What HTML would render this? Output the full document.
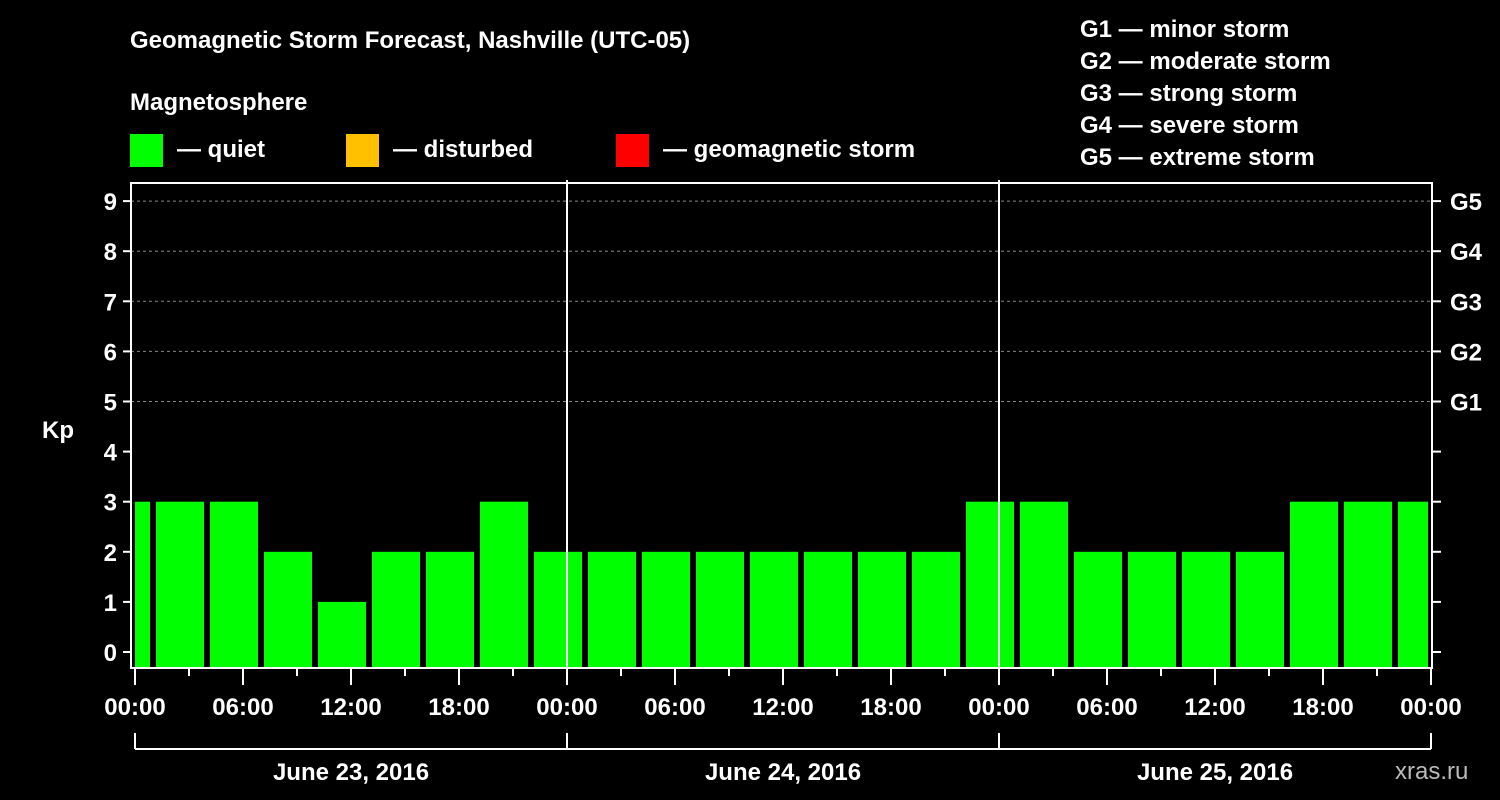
<!DOCTYPE html>
<html><head><meta charset="utf-8"><style>
html,body{margin:0;padding:0;background:#000;}
svg{display:block;}
text{font-family:"Liberation Sans",Arial,sans-serif;font-weight:bold;fill:#fff;}
</style></head><body>
<svg id="chart" width="1500" height="800" viewBox="0 0 1500 800">
<rect width="1500" height="800" fill="#000"/>
<text x="130" y="48" font-size="24">Geomagnetic Storm Forecast, Nashville (UTC-05)</text>
<text x="130" y="110" font-size="24">Magnetosphere</text>
<g><rect x="130" y="134" width="33" height="33" fill="#00ff00"/><text x="177" y="157" font-size="24">— quiet</text></g>
<g><rect x="346" y="134" width="33" height="33" fill="#ffc000"/><text x="393" y="157" font-size="24">— disturbed</text></g>
<g><rect x="616" y="134" width="33" height="33" fill="#ff0000"/><text x="663" y="157" font-size="24">— geomagnetic storm</text></g>
<g font-size="24">
<text x="1080" y="37">G1 — minor storm</text>
<text x="1080" y="69">G2 — moderate storm</text>
<text x="1080" y="101">G3 — strong storm</text>
<text x="1080" y="133">G4 — severe storm</text>
<text x="1080" y="165">G5 — extreme storm</text>
</g>
<text x="42" y="438" font-size="24">Kp</text>
<text x="1395" y="779" font-size="24" fill="#ccc" style="fill:#bbb;font-weight:normal">xras.ru</text>
<g id="marks"></g>
</svg>
<script>
const days = ["June 23, 2016","June 24, 2016","June 25, 2016"];
const barHours = [-0.5,2.5,5.5,8.5,11.5,14.5,17.5,20.5,23.5,26.5,29.5,32.5,35.5,38.5,41.5,44.5,47.5,50.5,53.5,56.5,59.5,62.5,65.5,68.5,71.5];
const kpValues = [3,3,3,2,1,2,2,3,2,2,2,2,2,2,2,2,3,3,2,2,2,2,3,3,3];
const yTicks = [0,1,2,3,4,5,6,7,8,9];
const gLevels = ["G1","G2","G3","G4","G5"];
const xTickLabels = ["00:00","06:00","12:00","18:00"];

const NS="http://www.w3.org/2000/svg";
const L=131,R=1432,T=183,B=668;
const x=h=>135+h*18;
const y=v=>652-v*50.1;
const g=document.getElementById('marks');
function mk(tag,attrs){const e=document.createElementNS(NS,tag);for(const k in attrs)e.setAttribute(k,attrs[k]);g.appendChild(e);return e;}

// grid lines
for(let v=5;v<=9;v++){
  const ln=mk('line',{x1:L,x2:R,y1:y(v),y2:y(v),stroke:'#888','stroke-dasharray':'3,3','stroke-width':1});
  
  
}
// bars
barHours.forEach((h,i)=>{
  let x0=Math.max(x(h-1.5)+3,L+4), x1=Math.min(x(h+1.5)-3,R-4);
  const r=mk('rect',{x:x0,y:y(kpValues[i]),width:x1-x0,height:B-y(kpValues[i]),fill:kpValues[i]>=5?'#ff0000':(kpValues[i]>=4?'#ffc000':'#00ff00')});
  
  
});
// day separators
for(let d=1;d<days.length;d++){
  const ln=mk('line',{x1:x(d*24),x2:x(d*24),y1:180,y2:B,stroke:'#fff','stroke-width':2});
  
  
}
// frame
const fr=mk('rect',{x:L,y:T,width:R-L,height:B-T,fill:'none',stroke:'#fff','stroke-width':2});


// y ticks
yTicks.forEach(v=>{
  mk('line',{x1:L-8,x2:L,y1:y(v),y2:y(v),stroke:'#fff','stroke-width':2});
  mk('line',{x1:R,x2:R+9,y1:y(v),y2:y(v),stroke:'#fff','stroke-width':2});
  const t=mk('text',{x:L-14,y:y(v)+9,'font-size':24,'text-anchor':'end'});
  
  
  t.textContent=v;
});
gLevels.forEach((s,i)=>{
  const t=mk('text',{x:1450,y:y(5+i)+9,'font-size':24});
  
  
  t.textContent=s;
});
// x ticks
for(let h=0;h<=days.length*24;h+=3){
  const major=h%6===0;
  mk('line',{x1:x(h),x2:x(h),y1:B,y2:B+(major?17:8),stroke:'#fff','stroke-width':2});
  if(major){
    const t=mk('text',{x:x(h),y:715,'font-size':24,'text-anchor':'middle'});
    
    
    t.textContent=xTickLabels[(h%24)/6];
  }
}
// day brackets
mk('line',{x1:x(0),x2:x(days.length*24),y1:749,y2:749,stroke:'#fff','stroke-width':2});
for(let d=0;d<=days.length;d++) mk('line',{x1:x(d*24),x2:x(d*24),y1:733,y2:749,stroke:'#fff','stroke-width':2});
days.forEach((s,d)=>{
  const t=mk('text',{x:x(d*24+12),y:780,'font-size':24,'text-anchor':'middle'});
  
  
  t.textContent=s;
});
</script>
</body></html>
